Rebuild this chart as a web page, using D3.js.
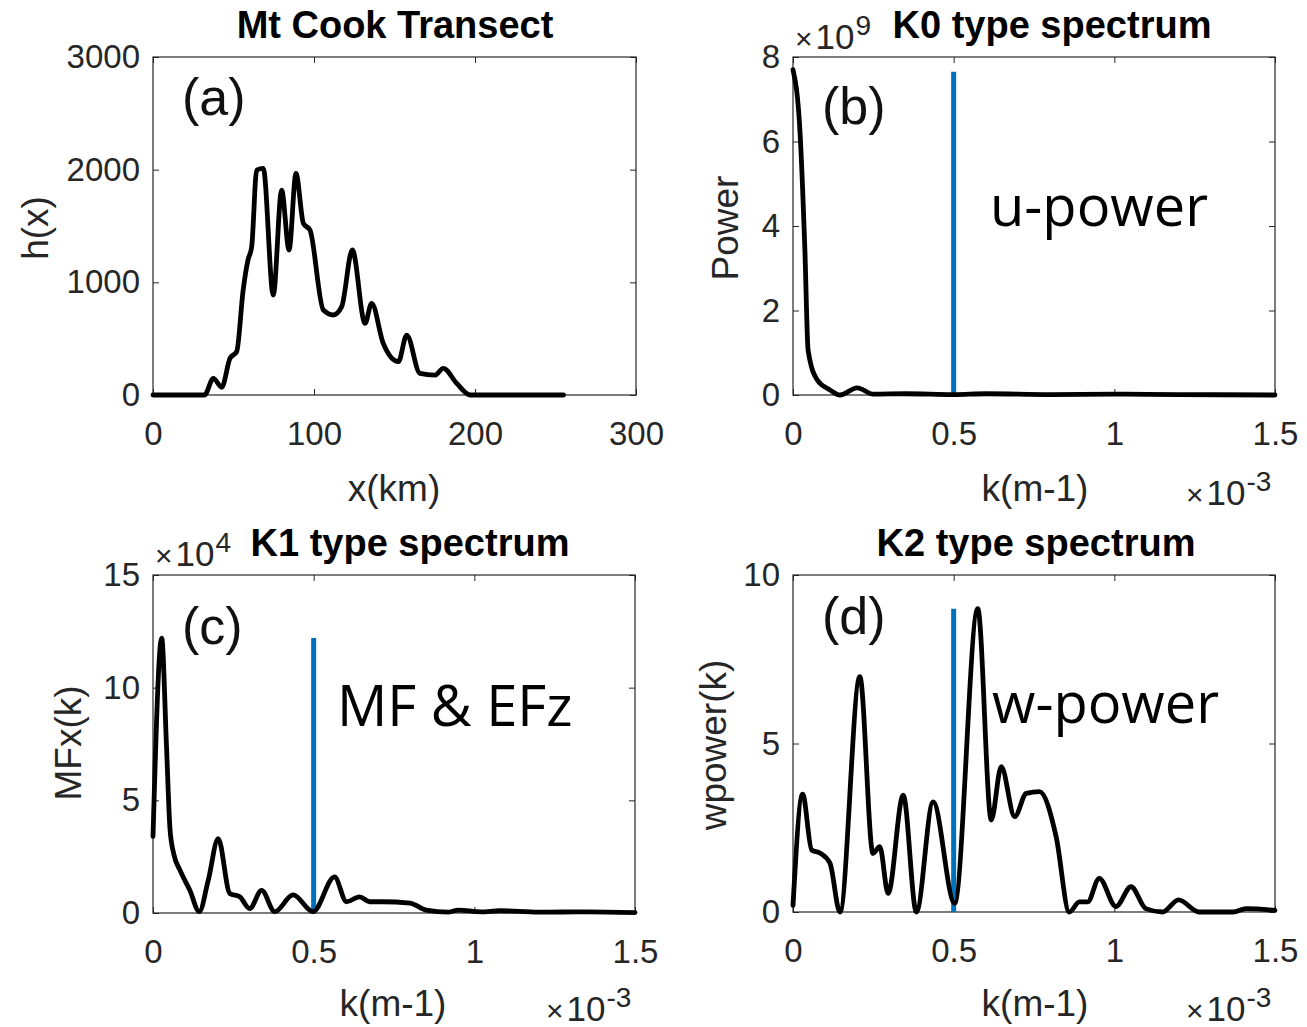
<!DOCTYPE html>
<html><head><meta charset="utf-8">
<script src="https://cdn.jsdelivr.net/npm/d3@7"></script>
<style>body{margin:0;background:#fff}</style>
</head><body><svg id="c" width="1307" height="1027"></svg>
<script>
// ---------- data ----------
// (a) Mt Cook transect: distance (km) and height h(x) (m)
const xKm = [0, 32, 37.5, 42.7, 47.8, 52, 56, 59, 61.3, 64.4, 68.5, 74.7, 79.9, 84.5, 88.8, 93.4, 97.5, 105.8, 112, 117.2, 123.8, 131.7, 135.8, 143, 152.4, 157.6, 165.8, 175.2, 180.3, 188.6, 197, 255];
const hX  = [0, 0, 148, 68, 325, 385, 932, 1198, 1316, 1996, 2011, 887, 1819, 1287, 1967, 1523, 1464, 754, 710, 784, 1287, 636, 814, 459, 296, 532, 192, 177, 237, 104, 0, 0];
// (b) K0 type spectrum: k (x1e-3 m^-1), power (x1e9)
const kB = [0, 0.022, 0.037, 0.047, 0.075, 0.115, 0.146, 0.2, 0.25, 0.35, 0.5, 0.6, 0.8, 1.0, 1.2, 1.5];
const pB = [7.7, 6.2, 3.43, 1.06, 0.36, 0.12, 0.0, 0.17, 0.02, 0.03, 0.01, 0.03, 0.01, 0.02, 0.01, 0.0];
// (c) K1 type spectrum: k (x1e-3), MFx (x1e4)
const kC = [0, 0.027, 0.042, 0.053, 0.065, 0.084, 0.115, 0.144, 0.172, 0.203, 0.239, 0.27, 0.301, 0.338, 0.379, 0.436, 0.498, 0.565, 0.602, 0.643, 0.674, 0.714, 0.8, 0.85, 0.92, 0.95, 1.02, 1.08, 1.2, 1.35, 1.5];
const vC = [3.4, 12.2, 7.4, 3.7, 2.6, 1.9, 1.0, 0.06, 1.46, 3.3, 0.87, 0.72, 0.2, 1.0, 0.06, 0.8, 0.06, 1.6, 0.5, 0.72, 0.5, 0.5, 0.44, 0.13, 0.04, 0.13, 0.05, 0.1, 0.04, 0.05, 0.02];
// (d) K2 type spectrum: k (x1e-3), wpower
const kD = [0, 0.03, 0.058, 0.084, 0.115, 0.146, 0.208, 0.249, 0.27, 0.296, 0.343, 0.384, 0.436, 0.503, 0.575, 0.617, 0.648, 0.69, 0.726, 0.767, 0.819, 0.86, 0.891, 0.917, 0.953, 1.005, 1.052, 1.098, 1.15, 1.2, 1.264, 1.37, 1.41, 1.5];
const vD = [0.2, 3.5, 1.84, 1.75, 1.45, 0, 6.98, 1.74, 1.94, 0.55, 3.47, 0, 3.27, 0.26, 9.0, 2.73, 4.31, 2.83, 3.52, 3.57, 2.23, 0, 0.3, 0.3, 1.0, 0.16, 0.75, 0.1, 0, 0.36, 0, 0, 0.1, 0.05];
// vertical marker lines (k, top value) for b, c, d
const markerK   = [0.5, 0.5, 0.5];
const markerTop = [7.65, 12.2, 9.0];
// ticks
const aXTicks = [0, 100, 200, 300], aYTicks = [0, 1000, 2000, 3000];
const kTicks  = [0, 0.5, 1, 1.5];
const bYTicks = [0, 2, 4, 6, 8], cYTicks = [0, 5, 10, 15], dYTicks = [0, 5, 10];
const titles  = ["Mt Cook Transect", "K0 type spectrum", "K1 type spectrum", "K2 type spectrum"];
const yLabels = ["h(x)", "Power", "MFx(k)", "wpower(k)"];
const xLabels = ["x(km)", "k(m-1)", "k(m-1)", "k(m-1)"];
const panelTags = ["(a)", "(b)", "(c)", "(d)"];
const notes   = ["", "u-power", "MF & EFz", "w-power"];

// ---------- drawing ----------
const svg = d3.select("#c");
svg.append("rect").attr("width",1307).attr("height",1027).attr("fill","#fff");
const TF = "'Liberation Sans', Arial, sans-serif";
const GRAY = "#262626";

const panels = [
  {box:[153,57,636,395], xd:[0,300], yd:[0,3000], xt:aXTicks, yt:aYTicks, xs:xKm, ys:hX,
   title:[395,38], ylab:[35,228], xlab:[394,488], tag:[182,115], note:null, exp:null, xexp:null},
  {box:[793,57,1275,395], xd:[0,1.5], yd:[0,8], xt:kTicks, yt:bYTicks, xs:kB, ys:pB,
   title:[1052,38], ylab:[725,228], xlab:[1035,488], tag:[822,124], note:[990,226], exp:[795,49,"9"], xexp:[1186,505]},
  {box:[153,575,635,913], xd:[0,1.5], yd:[0,15], xt:kTicks, yt:cYTicks, xs:kC, ys:vC,
   title:[410,556], ylab:[68,743], xlab:[393,1003], tag:[182,644], note:[337,726], exp:[155,566,"4"], xexp:[546,1021]},
  {box:[793,575,1275,912], xd:[0,1.5], yd:[0,10], xt:kTicks, yt:dYTicks, xs:kD, ys:vD,
   title:[1036,556], ylab:[713,745], xlab:[1035,1003], tag:[822,634], note:[992,723], exp:null, xexp:[1186,1021]}
];

panels.forEach((p, i) => {
  const [x0,y0,x1,y1] = p.box;
  const x = d3.scaleLinear().domain(p.xd).range([x0,x1]);
  const y = d3.scaleLinear().domain(p.yd).range([y1,y0]);
  const g = svg.append("g");

  const fmt = d => String(d);
  const ax = g.append("g").attr("transform",`translate(0,${y1})`)
    .call(d3.axisBottom(x).tickValues(p.xt).tickFormat(fmt).tickSizeInner(-6).tickSizeOuter(0).tickPadding(27));
  const ay = g.append("g").attr("transform",`translate(${x0},0)`)
    .call(d3.axisLeft(y).tickValues(p.yt).tickFormat(fmt).tickSizeInner(-6).tickSizeOuter(0).tickPadding(13));
  const at = g.append("g").attr("transform",`translate(0,${y0})`)
    .call(d3.axisTop(x).tickValues(p.xt).tickFormat("").tickSizeInner(-6).tickSizeOuter(0));
  const ar = g.append("g").attr("transform",`translate(${x1},0)`)
    .call(d3.axisRight(y).tickValues(p.yt).tickFormat("").tickSizeInner(-6).tickSizeOuter(0));
  [ax,ay,at,ar].forEach(a => {
    a.select(".domain").remove();
    a.selectAll("line").attr("stroke",GRAY).attr("stroke-width",1);
    a.selectAll("text").attr("font-family",TF).attr("font-size",33).attr("fill",GRAY);
  });

  g.append("rect").attr("x",x0).attr("y",y0).attr("width",x1-x0).attr("height",y1-y0)
    .attr("fill","none").attr("stroke",GRAY).attr("stroke-width",1.2);

  if (i > 0) {
    g.append("line")
      .attr("x1",x(markerK[i-1])).attr("x2",x(markerK[i-1]))
      .attr("y1",y(0)).attr("y2",y(markerTop[i-1]))
      .attr("stroke","#0072BD").attr("stroke-width",5);
  }

  const pts = p.xs.map((v,j) => [v, p.ys[j]]);
  g.append("path").datum(pts)
    .attr("d", d3.line().x(d=>x(d[0])).y(d=>y(d[1])).curve(d3.curveMonotoneX))
    .attr("fill","none").attr("stroke","#000").attr("stroke-width",4.8)
    .attr("stroke-linejoin","round").attr("stroke-linecap","round");

  g.append("text").attr("x",p.title[0]).attr("y",p.title[1]).attr("text-anchor","middle")
    .attr("font-family",TF).attr("font-weight","bold").attr("font-size",38).attr("fill","#000")
    .text(titles[i]);
  g.append("text").attr("transform",`translate(${p.ylab[0]},${p.ylab[1]}) rotate(-90)`)
    .attr("text-anchor","middle").attr("dy","0.35em")
    .attr("font-family",TF).attr("font-size",37).attr("fill",GRAY).text(yLabels[i]);
  g.append("text").attr("x",p.xlab[0]).attr("y",p.xlab[1]).attr("text-anchor","middle").attr("dy","0.35em")
    .attr("font-family",TF).attr("font-size",37).attr("fill",GRAY).text(xLabels[i]);
  g.append("text").attr("x",p.tag[0]).attr("y",p.tag[1])
    .attr("font-family",TF).attr("font-size",52).attr("fill","#111").text(panelTags[i]);
  if (p.note) {
    g.append("text").attr("x",p.note[0]).attr("y",p.note[1])
      .attr("font-family","'Open Sans', sans-serif").attr("font-size",56).attr("fill","#000").text(notes[i]);
  }
  const expo = (pos, sup) => {
    const t = g.append("text").attr("x",pos[0]).attr("y",pos[1])
      .attr("font-family",TF).attr("font-size",35).attr("fill",GRAY);
    t.append("tspan").attr("font-size",30).text("\u00d7");
    t.append("tspan").attr("dx",3).text("10");
    t.append("tspan").attr("dy",-14).attr("dx",1).attr("font-size",28).text(sup);
  };
  if (p.exp) expo([p.exp[0],p.exp[1]], p.exp[2]);
  if (p.xexp) expo(p.xexp, "-3");
});
</script>
</body></html>
